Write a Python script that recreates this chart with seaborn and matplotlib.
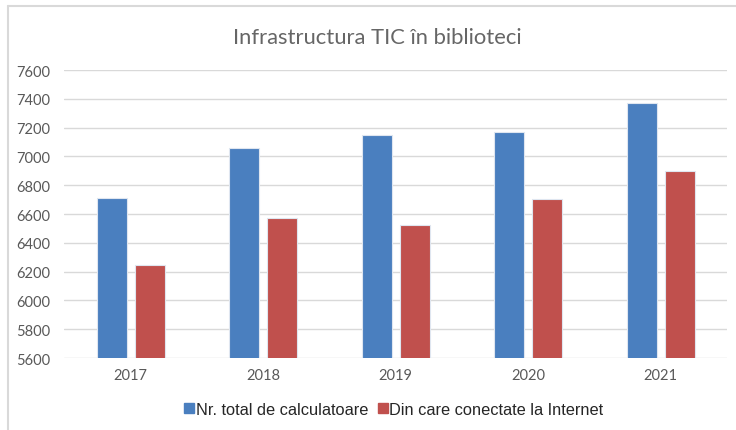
import matplotlib
matplotlib.use("Agg")
import matplotlib.pyplot as plt
import seaborn as sns
import pandas as pd
from matplotlib.lines import Line2D

years = ["2017", "2018", "2019", "2020", "2021"]
total = [6715, 7058, 7149, 7169, 7371]
internet = [6246, 6576, 6524, 6704, 6899]
series_names = ["Nr. total de calculatoare", "Din care conectate la Internet"]
colors = ["#4A7FBF", "#C0504D"]
title = "Infrastructura TIC în biblioteci"

df = pd.DataFrame({
    "year": years * 2,
    "value": total + internet,
    "series": [series_names[0]] * len(years) + [series_names[1]] * len(years),
})

sns.set_theme(style="white")
plt.rcParams["font.family"] = ["Lato", "DejaVu Sans"]

fig = plt.figure(figsize=(7.36, 4.31), dpi=100)
ax = fig.add_axes([0.0876, 0.167, 0.9002, 0.668])

sns.barplot(data=df, x="year", y="value", hue="series", palette=colors,
            width=0.574, gap=0.21, ax=ax, edgecolor="#dfe6f0", linewidth=0.8,
            legend=False, saturation=1)

ax.set_ylim(5600, 7600)
ax.set_yticks(range(5600, 7601, 200))
ax.set_xlim(-0.5, 4.5)
ax.yaxis.grid(True, color="#d9d9d9", linewidth=1)
ax.set_axisbelow(True)
for s in ax.spines.values():
    s.set_visible(False)
ax.set_xlabel("")
ax.set_ylabel("")
ax.tick_params(axis="both", length=0, labelsize=10.5, colors="#595959")
ax.tick_params(axis="y", pad=10)
ax.tick_params(axis="x", pad=7)

fig.text(0.512, 0.912, title, ha="center", va="center", fontsize=15.8,
         color="#666666", fontweight="normal")

handles = [Line2D([0], [0], marker="s", color="none", markerfacecolor=c,
                  markeredgecolor=c, markersize=7) for c in colors]
fig.legend(handles, series_names, loc="center", bbox_to_anchor=(0.535, 0.048),
           ncol=2, frameon=False, handlelength=0.6, handletextpad=0.1,
           columnspacing=0.6, prop={"family": "Liberation Sans", "size": 11.8})

# outer border (left and top)
fig.add_artist(Line2D([0.011, 0.011], [0.0, 0.984], color="#d9d9d9", lw=1.5,
                      transform=fig.transFigure))
fig.add_artist(Line2D([0.011, 1.0], [0.984, 0.984], color="#d9d9d9", lw=1.5,
                      transform=fig.transFigure))

fig.savefig("out.png", dpi=100, facecolor="white")
